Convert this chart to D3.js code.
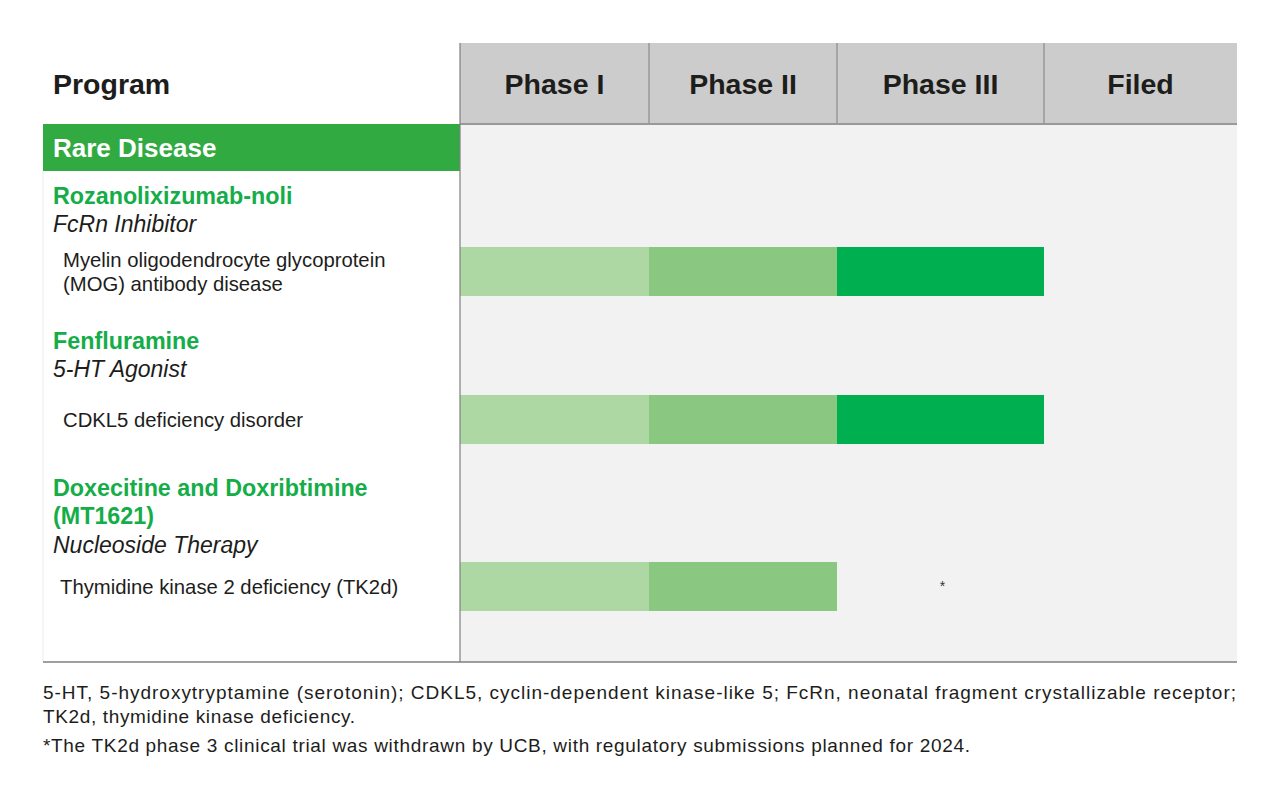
<!DOCTYPE html>
<html>
<head>
<meta charset="utf-8">
<script src="https://cdn.jsdelivr.net/npm/d3@7"></script>
<style>
  body { margin: 0; background: #fff; }
  svg text { font-family: "Liberation Sans", Arial, sans-serif; }
</style>
</head>
<body>
<script>
// pipeline data
const phases = ["Phase I", "Phase II", "Phase III", "Filed"];
const area = "Rare Disease";
const programs = [["Rozanolixizumab-noli"], ["Fenfluramine"], ["Doxecitine and Doxribtimine", "(MT1621)"]];
const mechanisms = ["FcRn Inhibitor", "5-HT Agonist", "Nucleoside Therapy"];
const indications = [["Myelin oligodendrocyte glycoprotein", "(MOG) antibody disease"], ["CDKL5 deficiency disorder"], ["Thymidine kinase 2 deficiency (TK2d)"]];
const phaseReached = [3, 3, 2];   // phases reached per program
const notes = ["", "", "*"];
const footnotes = [
  "5-HT, 5-hydroxytryptamine (serotonin); CDKL5, cyclin-dependent kinase-like 5; FcRn, neonatal fragment crystallizable receptor;",
  "TK2d, thymidine kinase deficiency.",
  "*The TK2d phase 3 clinical trial was withdrawn by UCB, with regulatory submissions planned for 2024."
];

const phaseColors = ["#add8a4", "#8ac882", "#00b050", "#00903f"];
const bandGreen = "#31ab41";
const titleGreen = "#14ad48";

var width = 1280, height = 788;
var svg = d3.select("body").append("svg")
    .attr("width", width)
    .attr("height", height);

// column scale (phase index -> x)
const x = d3.scaleLinear()
    .domain([0, 1, 2, 3, 4])
    .range([460, 649, 837, 1044, 1237]);

// row layout
const rowIdx = d3.range(programs.length);
const barTop = d3.scaleOrdinal().domain(rowIdx).range([247, 395, 562]);
const titleY = d3.scaleOrdinal().domain(rowIdx).range([196, 341, 488]);
const barH = 49;
const headTop = 43, headBottom = 124, areaBottom = 171, tableBottom = 662;

// body background
svg.append("rect")
    .attr("x", x(0)).attr("y", headBottom)
    .attr("width", x(4) - x(0)).attr("height", tableBottom - headBottom)
    .attr("fill", "#f2f2f2");

// header
svg.append("rect")
    .attr("x", x(0)).attr("y", headTop)
    .attr("width", x(4) - x(0)).attr("height", headBottom - headTop)
    .attr("fill", "#cccccc");

svg.selectAll(".divider")
    .data([1, 2, 3])
    .join("line")
    .attr("x1", d => x(d)).attr("x2", d => x(d))
    .attr("y1", headTop).attr("y2", headBottom)
    .attr("stroke", "#7f7f7f").attr("stroke-width", 1);

svg.selectAll(".phase")
    .data(phases)
    .join("text")
    .attr("x", (d, i) => (x(i) + x(i + 1)) / 2)
    .attr("y", 84)
    .attr("dy", "0.36em")
    .attr("text-anchor", "middle")
    .attr("font-size", 28.5)
    .attr("font-weight", "bold")
    .attr("fill", "#1d1d1b")
    .text(d => d);

svg.append("text")
    .attr("x", 53).attr("y", 84).attr("dy", "0.36em")
    .attr("font-size", 28.5).attr("font-weight", "bold")
    .attr("fill", "#1d1d1b")
    .text("Program");

svg.append("line")
    .attr("x1", x(0)).attr("x2", x(4))
    .attr("y1", headBottom).attr("y2", headBottom)
    .attr("stroke", "#999").attr("stroke-width", 2);

// therapeutic area band
svg.append("rect")
    .attr("x", 43).attr("y", headBottom)
    .attr("width", x(0) - 43).attr("height", areaBottom - headBottom)
    .attr("fill", bandGreen);
svg.append("text")
    .attr("x", 53).attr("y", (headBottom + areaBottom) / 2).attr("dy", "0.36em")
    .attr("font-size", 26).attr("font-weight", "bold")
    .attr("fill", "#fff")
    .text(area);

// rows
const rows = svg.selectAll(".row")
    .data(rowIdx)
    .join("g");

rows.each(function(i) {
  const g = d3.select(this);
  programs[i].forEach((t, k) => {
    g.append("text")
      .attr("x", 53).attr("y", titleY(i) + k * 28).attr("dy", "0.36em")
      .attr("font-size", 23.3).attr("font-weight", "bold")
      .attr("fill", titleGreen)
      .text(t);
  });
  g.append("text")
    .attr("x", 53).attr("y", titleY(i) + programs[i].length * 28 + (programs[i].length > 1 ? 1 : 0)).attr("dy", "0.36em")
    .attr("font-size", 23).attr("font-style", "italic")
    .attr("fill", "#1d1d1b")
    .text(mechanisms[i]);

  const mid = barTop(i) + barH / 2;
  const lines = indications[i];
  lines.forEach((t, k) => {
    g.append("text")
      .attr("x", i === 2 ? 60 : 63)
      .attr("y", mid + (k - (lines.length - 1) / 2) * 24).attr("dy", "0.36em")
      .attr("font-size", 20.3)
      .attr("fill", "#1d1d1b")
      .text(t);
  });

  g.selectAll("rect")
    .data(d3.range(phaseReached[i]))
    .join("rect")
    .attr("x", p => x(p)).attr("y", barTop(i))
    .attr("width", p => x(p + 1) - x(p)).attr("height", barH)
    .attr("fill", p => phaseColors[p]);

  if (notes[i]) {
    const p = phaseReached[i];
    g.append("text")
      .attr("x", (x(p) + x(p + 1)) / 2 + 2).attr("y", mid + 4)
      .attr("text-anchor", "middle")
      .attr("font-size", 14)
      .attr("fill", "#333")
      .text(notes[i]);
  }
});

// frame lines
svg.append("line")
    .attr("x1", x(0)).attr("x2", x(0))
    .attr("y1", headTop).attr("y2", tableBottom)
    .attr("stroke", "#7f7f7f").attr("stroke-width", 1.2);
svg.append("line")
    .attr("x1", 43).attr("x2", 43)
    .attr("y1", areaBottom).attr("y2", tableBottom)
    .attr("stroke", "#ececec").attr("stroke-width", 1);
svg.append("line")
    .attr("x1", 43).attr("x2", x(4))
    .attr("y1", tableBottom).attr("y2", tableBottom)
    .attr("stroke", "#7f7f7f").attr("stroke-width", 1.5);

// footnotes (stretched with spacing like the source)
const footWidths = [1193, 312, 927];
svg.selectAll(".foot")
    .data(footnotes)
    .join("text")
    .attr("x", 43)
    .attr("y", (d, i) => [692, 716, 745][i]).attr("dy", "0.36em")
    .attr("font-size", 19)
    .attr("fill", "#1d1d1b")
    .attr("textLength", (d, i) => footWidths[i])
    .attr("lengthAdjust", "spacing")
    .text(d => d);
</script>
</body>
</html>
